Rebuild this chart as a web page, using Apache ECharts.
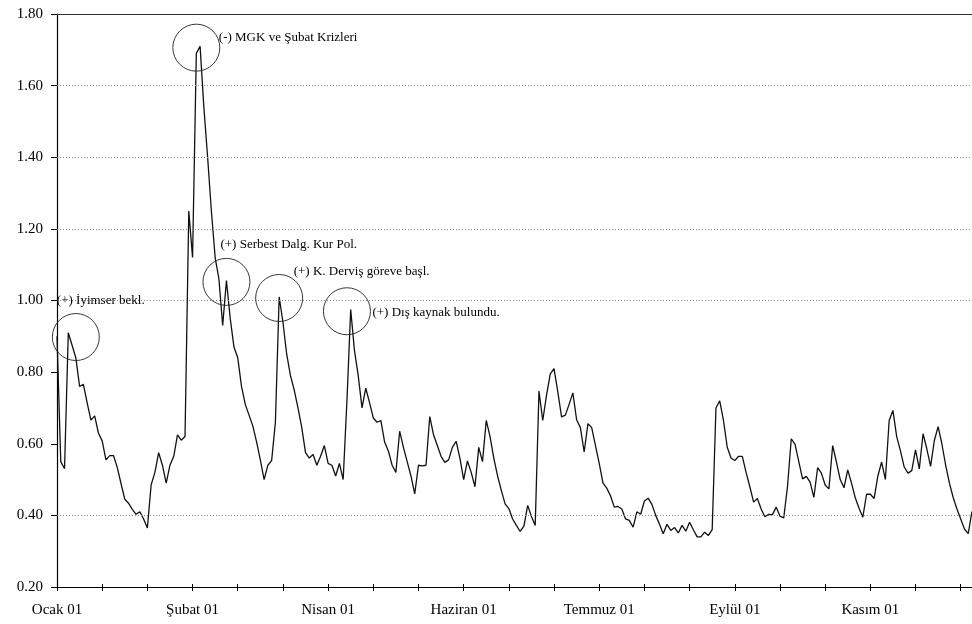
<!DOCTYPE html>
<html>
<head>
<meta charset="utf-8">
<script src="https://cdn.jsdelivr.net/npm/echarts@6/dist/echarts.min.js"></script>
<style>
  html, body { margin: 0; padding: 0; background: #ffffff; }
  #chart { width: 972px; height: 624px; }
</style>
</head>
<body>
<div id="chart"></div>
<script>
// Daily values for 2001, split by period (business days, 244 observations)
const ocakSubat = [
  0.90, 0.55, 0.53, 0.91, 0.875, 0.84, 0.76, 0.766, 0.715, 0.666,
  0.678, 0.63, 0.608, 0.555, 0.567, 0.567, 0.534, 0.489, 0.445, 0.434,
  0.417, 0.403, 0.41, 0.39, 0.365, 0.485, 0.52, 0.575, 0.54, 0.49,
  0.54, 0.565, 0.625, 0.61, 0.62, 1.25
];
const subatNisan = [
  1.12, 1.69, 1.71, 1.54, 1.40, 1.25, 1.12, 1.06, 0.93, 1.056,
  0.95, 0.87, 0.84, 0.76, 0.71, 0.68, 0.65, 0.605, 0.555, 0.50,
  0.54, 0.553, 0.66, 1.01, 0.94, 0.85, 0.79, 0.75, 0.70, 0.645,
  0.575, 0.56, 0.57, 0.54, 0.565, 0.595
];
const nisanHaziran = [
  0.545, 0.54, 0.51, 0.545, 0.50, 0.72, 0.975, 0.86, 0.79, 0.70,
  0.755, 0.715, 0.672, 0.66, 0.665, 0.605, 0.58, 0.54, 0.52, 0.635,
  0.59, 0.55, 0.51, 0.46, 0.54, 0.538, 0.54, 0.676, 0.625, 0.595,
  0.565, 0.548, 0.555, 0.59, 0.607, 0.56
];
const haziranTemmuz = [
  0.50, 0.552, 0.52, 0.48, 0.59, 0.55, 0.665, 0.62, 0.56, 0.51,
  0.47, 0.432, 0.419, 0.39, 0.372, 0.355, 0.37, 0.428, 0.397, 0.372,
  0.747, 0.665, 0.735, 0.795, 0.81, 0.745, 0.675, 0.68, 0.71, 0.742,
  0.667, 0.645, 0.577, 0.656, 0.645, 0.595
];
const temmuzEylul = [
  0.545, 0.49, 0.476, 0.455, 0.423, 0.425, 0.418, 0.39, 0.386, 0.367,
  0.41, 0.403, 0.44, 0.448, 0.43, 0.40, 0.375, 0.349, 0.375, 0.358,
  0.366, 0.351, 0.372, 0.356, 0.381, 0.36, 0.34, 0.34, 0.353, 0.344,
  0.36, 0.70, 0.72, 0.665, 0.59, 0.56
];
const eylulKasim = [
  0.553, 0.565, 0.565, 0.52, 0.48, 0.437, 0.447, 0.418, 0.396, 0.403,
  0.402, 0.423, 0.398, 0.393, 0.48, 0.614, 0.598, 0.55, 0.502, 0.509,
  0.493, 0.45, 0.533, 0.518, 0.485, 0.474, 0.595, 0.549, 0.50, 0.477,
  0.527, 0.49, 0.449, 0.42, 0.395, 0.459
];
const kasimAralik = [
  0.459, 0.447, 0.51, 0.549, 0.50, 0.665, 0.693, 0.62, 0.58, 0.535,
  0.518, 0.525, 0.583, 0.53, 0.628, 0.586, 0.537, 0.609, 0.648, 0.60,
  0.54, 0.49, 0.45, 0.418, 0.39, 0.362, 0.349, 0.411
];

// Month labels shown every third tick
const monthLabels = ['Ocak 01', 'Şubat 01', 'Nisan 01', 'Haziran 01', 'Temmuz 01', 'Eylül 01', 'Kasım 01'];
const yTicks = [0.20, 0.40, 0.60, 0.80, 1.00, 1.20, 1.40, 1.60, 1.80];
const gridValues = [0.40, 1.00, 1.20, 1.40, 1.60];

// Highlighted events: circle centre in data space (observation index, value)
const events = [
  { text: '(-) MGK ve Şubat Krizleri',   at: [36.8, 1.706] },
  { text: '(+) Serbest Dalg. Kur Pol.',  at: [44.6, 1.052] },
  { text: '(+) K. Derviş göreve başl.',  at: [58.8, 1.007] },
  { text: '(+) Dış kaynak bulundu.',     at: [77.0, 0.970] },
  { text: '(+) İyimser bekl.',           at: [5.3, 0.898] }
];

const values = [].concat(ocakSubat, subatNisan, nisanHaziran, haziranTemmuz,
                         temmuzEylul, eylulKasim, kasimAralik);
const days = values.map((_, i) => String(i + 1));

const TICK_STEP = 12;
const LABEL_STEP = 36;
const FONT = '"Liberation Serif", "Times New Roman", serif';

const chart = echarts.init(document.getElementById('chart'), null, { renderer: 'canvas' });

const option = {
  animation: false,
  backgroundColor: '#ffffff',
  grid: { left: 57, right: 0, top: 14, bottom: 37, containLabel: false },
  xAxis: [
    {
      type: 'category',
      data: days,
      boundaryGap: false,
      axisLine: { show: true, lineStyle: { color: '#000', width: 1.2 } },
      axisTick: { show: true, interval: TICK_STEP - 1, length: 4, lineStyle: { color: '#000', width: 1 } },
      axisLabel: {
        interval: LABEL_STEP - 1,
        margin: 16,
        fontFamily: FONT,
        fontSize: 15,
        color: '#000',
        formatter: (v, idx) => monthLabels[Math.round(idx / LABEL_STEP)] || ''
      },
      splitLine: { show: false }
    },
    {
      type: 'category',
      data: days,
      boundaryGap: false,
      position: 'bottom',
      axisLine: { show: false },
      axisTick: { show: true, inside: true, interval: TICK_STEP - 1, length: 3, lineStyle: { color: '#000', width: 1 } },
      axisLabel: { show: false },
      splitLine: { show: false }
    }
  ],
  yAxis: {
    type: 'value',
    min: yTicks[0],
    max: yTicks[yTicks.length - 1],
    interval: 0.2,
    axisLine: { show: true, lineStyle: { color: '#000', width: 1.2 } },
    axisTick: { show: true, length: 6, lineStyle: { color: '#000' } },
    axisLabel: {
      margin: 14,
      fontFamily: FONT,
      fontSize: 15,
      color: '#000',
      formatter: v => v.toFixed(2)
    },
    splitLine: { show: false }
  },
  series: [
    {
      type: 'line',
      data: values,
      xAxisIndex: 0,
      symbol: 'none',
      smooth: false,
      lineStyle: { color: '#111', width: 1.3 },
      markLine: {
        silent: true,
        symbol: 'none',
        label: { show: false },
        data: gridValues.map(v => ({ yAxis: v, lineStyle: { color: '#8a8a8a', width: 1, type: [1, 2] } }))
          .concat([{ yAxis: yTicks[yTicks.length - 1], lineStyle: { color: '#333', width: 1.2, type: 'solid' } }])
      }
    }
  ]
};

chart.setOption(option);

// Circles and captions around the events, positioned from data coordinates
const RADIUS = 23.5;
const captionOffsets = [[22.5, -10], [-6, -37], [14.5, -26], [25.5, 1], [-19, -36]];
const graphics = [];
events.forEach((ev, k) => {
  const p = chart.convertToPixel({ xAxisIndex: 0, yAxisIndex: 0 }, ev.at);
  graphics.push({
    type: 'circle',
    shape: { cx: p[0], cy: p[1], r: RADIUS },
    style: { fill: 'none', stroke: '#222', lineWidth: 0.9 },
    silent: true,
    z: 10
  });
  const off = captionOffsets[k];
  graphics.push({
    type: 'text',
    x: p[0] + off[0],
    y: p[1] + off[1],
    style: {
      text: ev.text,
      fill: '#000',
      font: '13px ' + FONT,
      verticalAlign: 'middle',
      align: 'left'
    },
    silent: true,
    z: 11
  });
});
chart.setOption({ graphic: graphics });
</script>
</body>
</html>
